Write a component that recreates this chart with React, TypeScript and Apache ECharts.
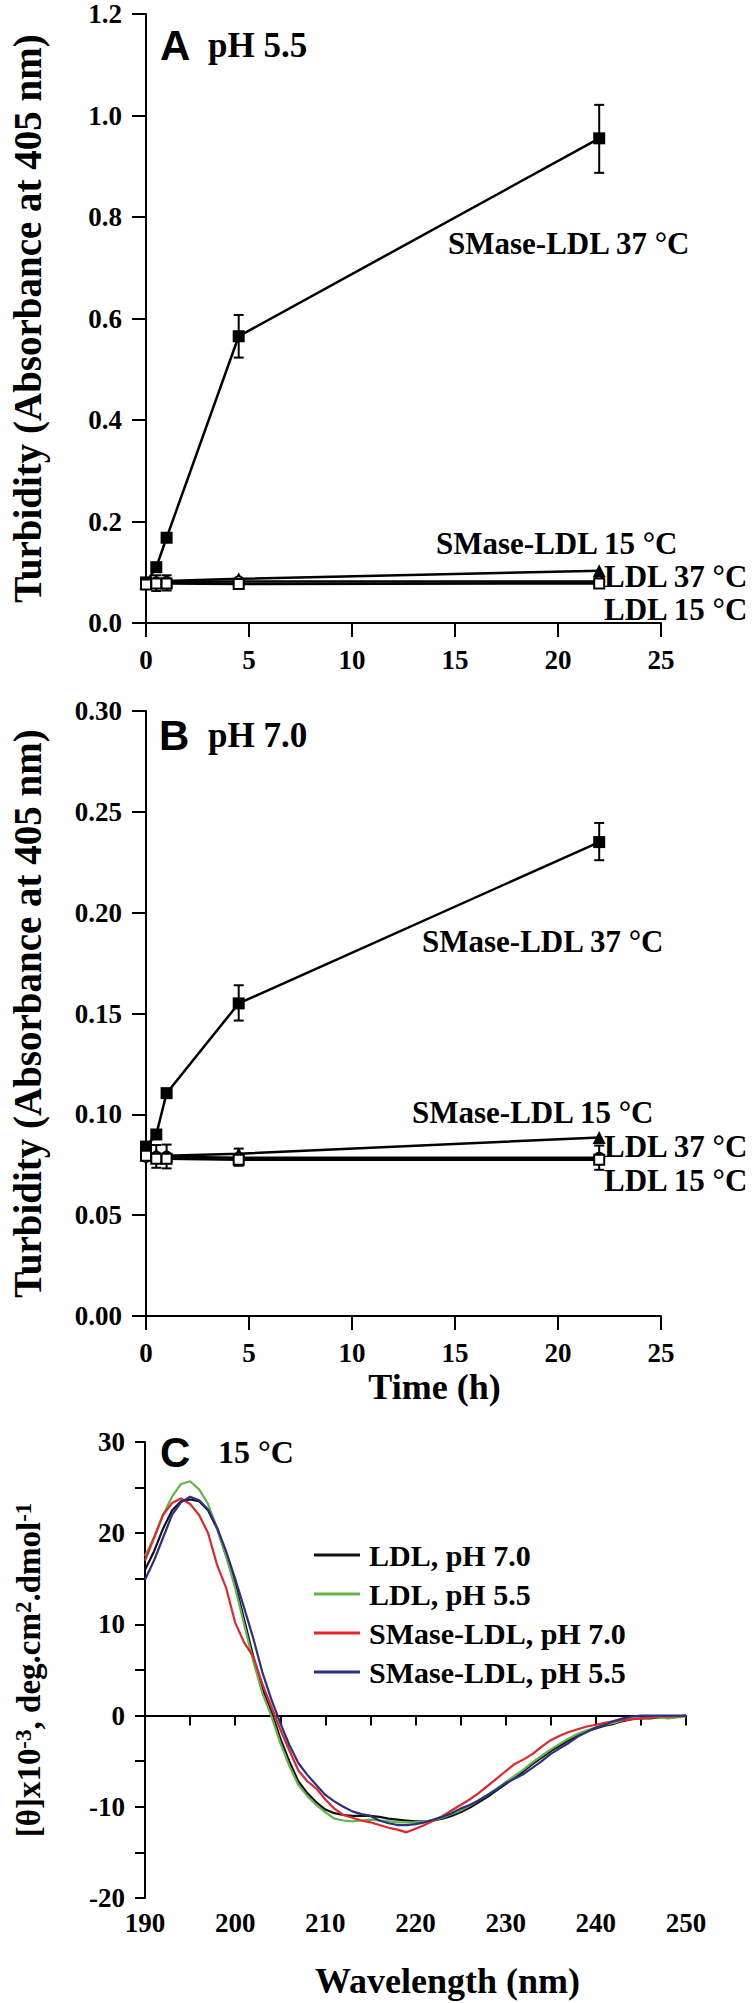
import React, { useEffect, useRef } from "react";
import * as echarts from "echarts";

// ---------- Panel A / B data (time in hours) ----------
const timeH = [0, 0.5, 1, 4.5, 22];

const aSMase37 = [0.08, 0.11, 0.168, 0.565, 0.955];
const aSMase15 = [0.078, 0.082, 0.083, 0.087, 0.103];
const aLDL37 = [0.078, 0.08, 0.081, 0.082, 0.082];
const aLDL15 = [0.076, 0.078, 0.078, 0.077, 0.078];
// [time, low, high]
const aErrSMase37 = [[4.5, 0.523, 0.607], [22, 0.887, 1.021]];
const aErrLDL = [[0.5, 0.063, 0.094], [1, 0.064, 0.094], [4.5, 0.07, 0.086], [22, 0.07, 0.088]];

const bSMase37 = [0.084, 0.09, 0.1105, 0.155, 0.235];
const bSMase15 = [0.08, 0.08, 0.0795, 0.0805, 0.0885];
const bLDL37 = [0.079, 0.079, 0.079, 0.0785, 0.0785];
const bLDL15 = [0.0795, 0.078, 0.078, 0.0775, 0.0775];
const bErrSMase37 = [[4.5, 0.1465, 0.164], [22, 0.226, 0.2445]];
const bErrLDL = [[0.5, 0.0735, 0.0848], [1, 0.0732, 0.085], [4.5, 0.0745, 0.083], [22, 0.0725, 0.0845]];

const yTicksA = [0, 0.2, 0.4, 0.6, 0.8, 1.0, 1.2];
const yTicksB = [0, 0.05, 0.1, 0.15, 0.2, 0.25, 0.3];

// ---------- Panel C data (CD spectra) ----------
const wavelength = [
  190, 191, 192, 193, 194, 195, 196, 197, 198, 199, 200, 201, 202, 203, 204, 205, 206, 207, 208, 209,
  210, 211, 212, 213, 214, 215, 216, 217, 218, 219, 220, 221, 222, 223, 224, 225, 226, 227, 228, 229,
  230, 231, 232, 233, 234, 235, 236, 237, 238, 239, 240, 241, 242, 243, 244, 245, 246, 247, 248, 249, 250,
];
const ldl70 = [
  16.0, 18.0, 20.5, 22.5, 23.5, 23.7, 23.5, 22.5, 20.5, 17.5, 14.5, 10.5, 6.5, 3.0, 0.5, -2.5, -5.0, -7.2, -8.5, -9.5,
  -10.3, -10.7, -10.9, -11.0, -11.0, -11.0, -11.1, -11.3, -11.4, -11.5, -11.6, -11.6, -11.5, -11.3, -11.0, -10.6, -10.1, -9.5, -8.9, -8.2,
  -7.5, -6.8, -6.1, -5.3, -4.6, -3.9, -3.3, -2.7, -2.2, -1.7, -1.4, -1.1, -0.9, -0.6, -0.4, -0.3, -0.3, -0.2, -0.1, -0.1, 0.0,
];
const ldl55 = [
  17.5, 19.5, 22.0, 24.0, 25.4, 25.7, 24.8, 23.2, 20.5, 17.5, 14.0, 10.0, 6.0, 2.5, 0.0, -3.0, -5.5, -7.6, -8.8, -9.8,
  -10.6, -11.3, -11.5, -11.6, -11.5, -11.4, -11.5, -11.6, -11.7, -11.7, -11.7, -11.6, -11.5, -11.2, -10.8, -10.4, -9.9, -9.3, -8.7, -8.0,
  -7.3, -6.6, -5.9, -5.1, -4.4, -3.7, -3.1, -2.5, -2.0, -1.6, -1.3, -1.0, -0.8, -0.5, -0.3, -0.3, -0.2, -0.2, -0.3, -0.2, -0.1,
];
const smase70 = [
  17.0, 19.5, 22.0, 23.3, 23.8, 23.2, 22.0, 20.0, 16.5, 14.0, 10.2, 8.0, 6.5, 3.5, 1.0, -1.5, -3.8, -6.0, -7.2, -8.0,
  -9.2, -10.2, -10.9, -11.2, -11.5, -11.7, -12.0, -12.3, -12.5, -12.8, -12.4, -12.0, -11.5, -11.0, -10.4, -9.8, -9.2, -8.5, -7.7, -6.9,
  -6.1, -5.3, -4.8, -4.2, -3.4, -2.7, -2.2, -1.8, -1.5, -1.2, -1.0, -0.8, -0.6, -0.5, -0.4, -0.3, -0.2, -0.1, -0.1, -0.1, 0.0,
];
const smase55 = [
  14.9, 17.0, 19.5, 22.0, 23.4, 24.0, 23.6, 22.6, 20.6, 18.0, 15.0, 11.8, 8.5, 4.8, 1.8, -0.8, -3.2, -5.2, -6.5, -7.6,
  -8.7, -9.4, -10.0, -10.5, -10.8, -11.0, -11.5, -11.8, -12.0, -12.0, -11.9, -11.7, -11.4, -11.1, -10.7, -10.2, -9.8, -9.3, -8.7, -8.1,
  -7.4, -6.9, -6.4, -5.7, -5.0, -4.2, -3.6, -3.0, -2.3, -1.8, -1.3, -1.0, -0.6, -0.3, -0.1, 0.0, 0.0, 0.0, 0.0, 0.0, 0.0,
];
const cdNames = ["LDL, pH 7.0", "LDL, pH 5.5", "SMase-LDL, pH 7.0", "SMase-LDL, pH 5.5"];
const cdColors = ["#111111", "#62b547", "#e3262b", "#2b2f85"];

const SERIF = '"Liberation Serif", "Times New Roman", serif';
const SANS = '"Liberation Sans", Arial, sans-serif';

const pairs = (xs: number[], ys: number[]) => xs.map((x, i) => [x, ys[i]]);

function errorSeries(idx: number, data: number[][]) {
  return {
    type: "custom",
    xAxisIndex: idx,
    yAxisIndex: idx,
    data,
    encode: { x: 0, y: [1, 2] },
    z: 1,
    silent: true,
    renderItem: (_p: any, api: any) => {
      const x = api.value(0);
      const lo = api.value(1);
      const hi = api.value(2);
      const p1 = api.coord([x, hi]);
      const p2 = api.coord([x, lo]);
      const w = 5;
      const st = { stroke: "#000", lineWidth: 2 };
      return {
        type: "group",
        children: [
          { type: "line", shape: { x1: p1[0], y1: p1[1], x2: p2[0], y2: p2[1] }, style: st },
          { type: "line", shape: { x1: p1[0] - w, y1: p1[1], x2: p1[0] + w, y2: p1[1] }, style: st },
          { type: "line", shape: { x1: p2[0] - w, y1: p2[1], x2: p2[0] + w, y2: p2[1] }, style: st },
        ],
      };
    },
  };
}

function turbSeries(idx: number, s37: number[], s15: number[], l37: number[], l15: number[]) {
  const base = { type: "line", xAxisIndex: idx, yAxisIndex: idx, lineStyle: { color: "#000", width: 2.5 }, z: 3, silent: true };
  return [
    { ...base, name: "SMase-LDL 37 °C", data: pairs(timeH, s37), symbol: "rect", symbolSize: 12, itemStyle: { color: "#000" } },
    { ...base, name: "SMase-LDL 15 °C", data: pairs(timeH, s15), symbol: "triangle", symbolSize: 13, itemStyle: { color: "#000" } },
    { ...base, name: "LDL 37 °C", data: pairs(timeH, l37), symbol: "circle", symbolSize: 10, itemStyle: { color: "#fff", borderColor: "#000", borderWidth: 2 } },
    { ...base, name: "LDL 15 °C", data: pairs(timeH, l15), symbol: "rect", symbolSize: 10, itemStyle: { color: "#fff", borderColor: "#000", borderWidth: 2 } },
  ];
}

const axisLine = { show: true, lineStyle: { color: "#000", width: 2 } };
const labelFont = { color: "#000", fontFamily: SERIF, fontWeight: "bold" as const, fontSize: 27 };
const nameFont = { color: "#000", fontFamily: SERIF, fontWeight: "bold" as const, fontSize: 36 };

function txt(text: string, x: number, y: number, font: string) {
  const style: any = { text, font, fill: "#000", align: "left", verticalAlign: "middle", textAlign: "left", textVerticalAlign: "middle" };
  return { type: "text", x, y, silent: true, style };
}

export default function App() {
  const ref = useRef<HTMLDivElement>(null);
  useEffect(() => {
    document.body.style.margin = "0";
    const chart = echarts.init(ref.current!, null, { renderer: "svg" });
    const ann = `bold 31px ${SERIF}`;
    const option: any = {
      animation: false,
      backgroundColor: "#fff",
      grid: [
        { left: 137, top: 14, width: 524, height: 609 },
        { left: 137, top: 711, width: 524, height: 605 },
        { left: 145, top: 1442, width: 541, height: 456 },
      ],
      xAxis: [
        {
          gridIndex: 0, type: "value", min: 0, max: 25, interval: 5,
          axisLine, axisTick: { length: 14, lineStyle: { width: 2, color: "#000" } },
          axisLabel: { ...labelFont, margin: 23 }, splitLine: { show: false },
        },
        {
          gridIndex: 1, type: "value", min: 0, max: 25, interval: 5,
          axisLine, axisTick: { length: 14, lineStyle: { width: 2, color: "#000" } },
          axisLabel: { ...labelFont, margin: 23 }, splitLine: { show: false },
          name: "Time (h)", nameLocation: "middle", nameGap: 53,
          nameTextStyle: { ...nameFont, padding: [0, 0, 0, 62] },
        },
        {
          gridIndex: 2, type: "value", min: 190, max: 250, interval: 5,
          axisLine, axisTick: { length: 10, lineStyle: { width: 2, color: "#000" } },
          axisLabel: { ...labelFont, margin: 11, formatter: (v: number) => (v % 10 === 0 ? String(v) : "") },
          splitLine: { show: false },
          name: "Wavelength (nm)", nameLocation: "middle", nameGap: 65,
          nameTextStyle: { ...nameFont, padding: [0, 0, 0, 64] },
        },
      ],
      yAxis: [
        {
          gridIndex: 0, type: "value", min: yTicksA[0], max: yTicksA[yTicksA.length - 1], interval: 0.2,
          axisLine, axisTick: { length: 14, lineStyle: { width: 2, color: "#000" } },
          axisLabel: { ...labelFont, margin: 24, formatter: (v: number) => v.toFixed(1) },
          splitLine: { show: false },
          name: "Turbidity (Absorbance at 405 nm)", nameLocation: "middle", nameGap: 99,
          nameTextStyle: { ...nameFont, fontSize: 39 },
        },
        {
          gridIndex: 1, type: "value", min: yTicksB[0], max: yTicksB[yTicksB.length - 1], interval: 0.05,
          axisLine, axisTick: { length: 14, lineStyle: { width: 2, color: "#000" } },
          axisLabel: { ...labelFont, margin: 24, formatter: (v: number) => v.toFixed(2) },
          splitLine: { show: false },
          name: "Turbidity (Absorbance at 405 nm)", nameLocation: "middle", nameGap: 99,
          nameTextStyle: { ...nameFont, fontSize: 39 },
        },
        {
          gridIndex: 2, type: "value", min: -20, max: 30, interval: 5,
          axisLine, axisTick: { length: 10, lineStyle: { width: 2, color: "#000" } },
          axisLabel: { ...labelFont, margin: 20, formatter: (v: number) => (v % 10 === 0 ? String(v) : "") },
          splitLine: { show: false },
          name: "[θ]x10{sup|-3}, deg.cm{sup|2}.dmol{sup|-1}", nameLocation: "middle", nameGap: 100,
          nameTextStyle: {
            ...nameFont, fontSize: 33,
            rich: { sup: { fontFamily: SERIF, fontWeight: "bold", fontSize: 23, verticalAlign: "top", color: "#000" } },
          },
        },
      ],
      legend: {
        data: cdNames,
        orient: "vertical",
        left: 309,
        top: 1535,
        icon: "rect",
        itemWidth: 46,
        itemHeight: 3,
        itemGap: 9,
        textStyle: { color: "#000", fontFamily: SERIF, fontWeight: "bold", fontSize: 30, lineHeight: 30, padding: [0, 0, 0, 4] },
        selectedMode: false,
      },
      graphic: [
        txt("A", 160, 45, `bold 42px ${SANS}`),
        txt("pH 5.5", 208, 45, `bold 35px ${SERIF}`),
        txt("B", 159, 735, `bold 42px ${SANS}`),
        txt("pH 7.0", 208, 735, `bold 35px ${SERIF}`),
        txt("C", 160, 1452, `bold 42px ${SANS}`),
        txt("15 °C", 218, 1452, `bold 32px ${SERIF}`),
        txt("SMase-LDL 37 °C", 448, 243, ann),
        txt("SMase-LDL 15 °C", 436, 543, ann),
        txt("LDL 37 °C", 604, 576, ann),
        txt("LDL 15 °C", 604, 609, ann),
        txt("SMase-LDL 37 °C", 422, 941, ann),
        txt("SMase-LDL 15 °C", 412, 1112, ann),
        txt("LDL 37 °C", 604, 1146, ann),
        txt("LDL 15 °C", 604, 1180, ann),
      ],
      series: [
        ...turbSeries(0, aSMase37, aSMase15, aLDL37, aLDL15),
        errorSeries(0, aErrSMase37),
        errorSeries(0, aErrLDL),
        ...turbSeries(1, bSMase37, bSMase15, bLDL37, bLDL15),
        errorSeries(1, bErrSMase37),
        errorSeries(1, bErrLDL),
        ...[ldl70, ldl55, smase70, smase55].map((vals, i) => ({
          type: "line",
          name: cdNames[i],
          xAxisIndex: 2,
          yAxisIndex: 2,
          data: pairs(wavelength, vals),
          showSymbol: false,
          symbol: "none",
          color: cdColors[i],
          lineStyle: { color: cdColors[i], width: 2.2 },
          silent: true,
        })),
      ],
    };
    chart.setOption(option);
    return () => chart.dispose();
  }, []);
  return <div ref={ref} style={{ position: "absolute", left: 0, top: 0, width: 752, height: 2003 }} />;
}
